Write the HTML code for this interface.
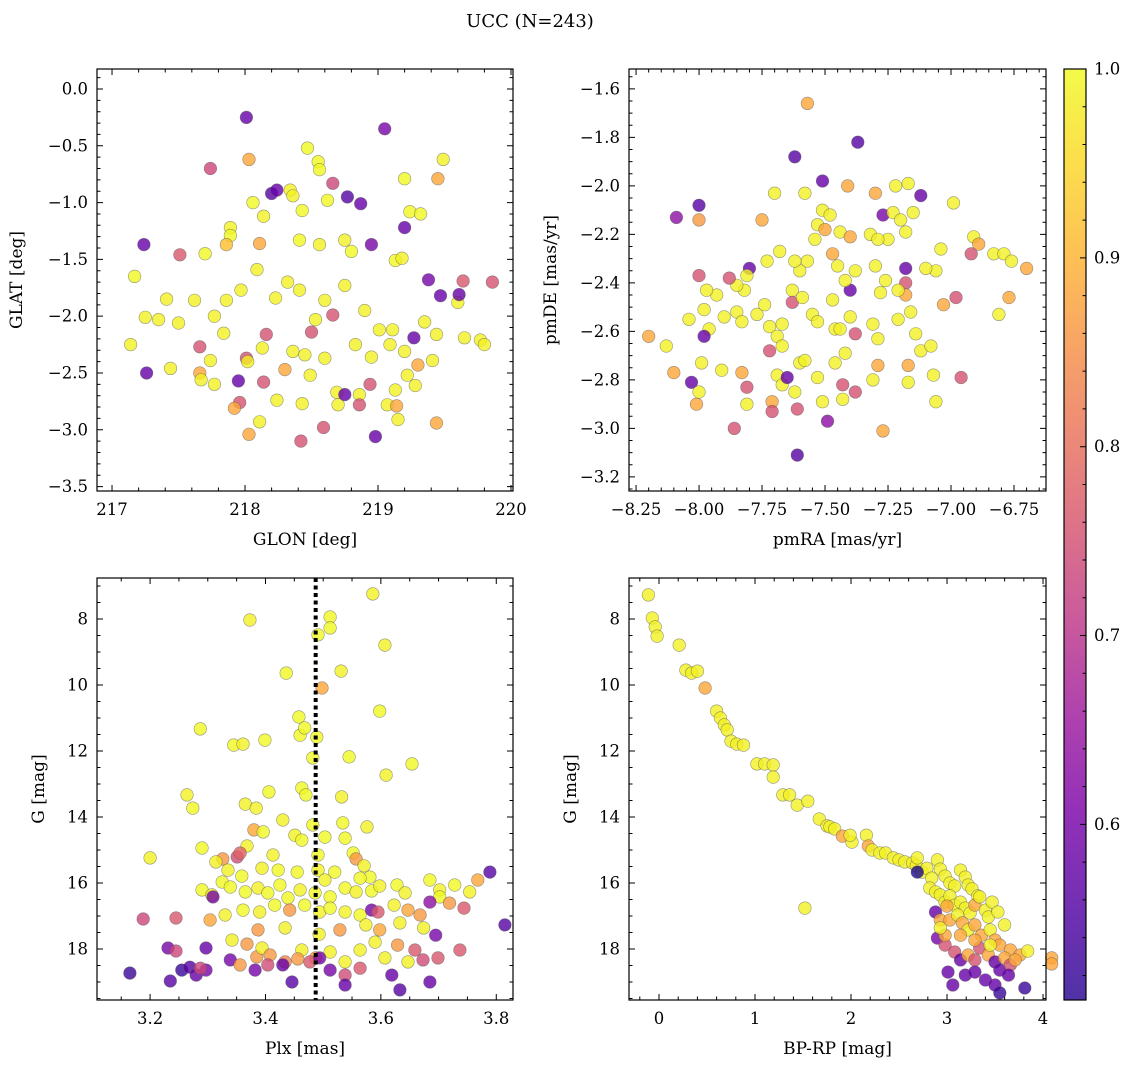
<!DOCTYPE html>
<html><head><meta charset="utf-8"><style>
body{margin:0;background:#fff}
svg{display:block;font-family:"DejaVu Serif","Liberation Serif",serif}
</style></head><body>
<svg id="fig" width="1136" height="1068" viewBox="0 0 1136 1068" xmlns="http://www.w3.org/2000/svg">
<defs>
<linearGradient id="cbgrad" x1="0" y1="1" x2="0" y2="0">
<stop offset="0" stop-color="#2a0593"/><stop offset="0.1" stop-color="#5302a3"/><stop offset="0.2" stop-color="#7a02a8"/><stop offset="0.3" stop-color="#9c179e"/><stop offset="0.4" stop-color="#bb3488"/><stop offset="0.5" stop-color="#d35171"/><stop offset="0.6" stop-color="#e76f5a"/><stop offset="0.7" stop-color="#f68f44"/><stop offset="0.8" stop-color="#fdb32f"/><stop offset="0.9" stop-color="#fbd724"/><stop offset="1" stop-color="#f0f921"/>
</linearGradient>
</defs>
<text x="530" y="27" font-size="18" text-anchor="middle">UCC (N=243)</text>
</svg>
<script>
// Panel 1: GLON vs GLAT
const glon=[218.01,219.05,217.74,218.03,218.47,218.55,218.56,218.66,219.49,219.20,219.45,218.20,218.24,218.34,218.36,218.62,218.77,218.87,219.24,219.32,218.06,218.14,218.43,217.89,217.89,217.24,217.51,217.70,217.86,218.11,218.41,218.56,218.75,218.80,218.95,219.20,219.13,219.18,219.38,219.64,217.17,217.41,217.50,217.25,217.35,217.62,217.77,217.84,217.97,218.09,218.23,218.41,218.53,218.60,218.75,218.90,219.01,219.11,219.27,219.35,219.44,219.60,219.77,219.80,219.47,219.61,217.66,217.74,218.01,218.13,218.16,218.36,218.45,218.50,218.66,218.83,218.95,219.09,219.20,219.30,219.41,217.26,217.44,217.66,217.67,217.95,217.77,218.02,218.14,218.30,218.49,218.60,218.69,218.86,218.94,219.13,219.28,219.22,217.96,217.92,218.24,218.43,218.59,218.70,218.75,218.86,219.07,219.15,219.44,218.42,218.03,218.11,218.98,219.14,219.65,219.86,217.14,217.86,218.32];
const glat=[-0.25,-0.35,-0.70,-0.62,-0.52,-0.64,-0.71,-0.83,-0.62,-0.79,-0.79,-0.92,-0.89,-0.89,-0.94,-0.98,-0.95,-1.01,-1.08,-1.10,-1.00,-1.12,-1.07,-1.22,-1.29,-1.37,-1.46,-1.45,-1.37,-1.36,-1.33,-1.37,-1.33,-1.43,-1.37,-1.22,-1.51,-1.49,-1.68,-1.69,-1.65,-1.85,-2.06,-2.01,-2.03,-1.86,-2.00,-2.15,-1.77,-1.59,-1.84,-1.77,-2.03,-1.86,-1.73,-1.95,-2.12,-2.12,-2.19,-2.05,-2.16,-1.88,-2.21,-2.25,-1.82,-1.81,-2.27,-2.39,-2.37,-2.28,-2.16,-2.31,-2.34,-2.14,-1.99,-2.25,-2.36,-2.25,-2.31,-2.43,-2.39,-2.50,-2.46,-2.50,-2.56,-2.57,-2.60,-2.40,-2.58,-2.47,-2.52,-2.37,-2.67,-2.69,-2.60,-2.65,-2.61,-2.52,-2.76,-2.81,-2.74,-2.77,-2.98,-2.78,-2.69,-2.78,-2.78,-2.91,-2.94,-3.10,-3.04,-2.93,-3.06,-2.79,-2.19,-1.70,-2.25,-1.86,-1.70];
const prob1=[0.60,0.62,0.75,0.90,1.0,1.0,1.0,0.75,0.99,1.0,0.90,0.58,0.60,0.99,0.99,1.0,0.58,0.60,1.0,1.0,1.0,0.99,1.0,0.99,1.0,0.60,0.78,1.0,0.93,0.90,1.0,0.99,0.99,1.0,0.62,0.60,1.0,0.99,0.62,0.78,1.0,0.99,0.99,0.99,0.99,0.99,0.99,0.99,0.99,0.99,0.99,0.99,0.99,0.99,0.99,0.99,0.99,0.99,0.60,0.99,0.99,0.99,0.99,0.99,0.60,0.60,0.77,0.99,0.77,0.99,0.77,0.99,0.99,0.77,0.77,0.99,0.99,0.99,0.99,0.90,0.99,0.60,0.99,0.90,0.99,0.60,0.99,0.99,0.77,0.90,0.99,0.99,0.99,0.99,0.77,0.99,0.99,0.99,0.77,0.90,0.99,0.99,0.77,0.99,0.60,0.77,0.99,0.99,0.90,0.77,0.90,0.99,0.60,0.90,0.99,0.77,0.99,0.99,0.99];

// Panel 2: pmRA vs pmDE
const pmra=[-7.57,-7.37,-7.62,-7.51,-7.70,-7.58,-7.12,-7.30,-7.41,-7.17,-7.22,-8.09,-8.00,-8.00,-6.99,-7.75,-7.51,-7.48,-7.44,-7.40,-7.53,-7.54,-7.50,-7.32,-7.27,-7.23,-7.20,-7.18,-7.15,-7.25,-7.29,-6.91,-6.89,-6.70,-6.83,-6.79,-6.76,-6.92,-7.04,-7.06,-7.10,-7.18,-7.18,-7.18,-7.21,-7.28,-7.26,-7.30,-7.38,-7.40,-7.42,-7.47,-7.45,-7.57,-7.60,-7.62,-7.63,-7.68,-7.73,-7.80,-7.81,-7.82,-7.85,-7.88,-7.93,-7.97,-8.00,-8.04,-7.98,-7.96,-7.90,-7.98,-7.85,-7.83,-7.77,-7.74,-7.72,-7.69,-7.67,-7.67,-7.63,-7.59,-7.55,-7.53,-7.47,-7.46,-7.44,-7.40,-7.38,-7.31,-7.29,-7.21,-7.16,-7.14,-7.12,-7.08,-7.03,-6.98,-6.77,-6.81,-8.20,-8.13,-8.10,-8.03,-7.99,-7.91,-7.83,-7.81,-7.72,-7.69,-7.67,-7.60,-7.65,-7.58,-7.53,-7.46,-7.42,-7.43,-7.31,-7.29,-7.17,-7.07,-6.96,-8.01,-8.00,-7.86,-7.71,-7.62,-7.49,-7.51,-7.43,-7.38,-7.61,-7.81,-7.71,-7.61,-7.27,-7.06,-7.17];
const pmde=[-1.66,-1.82,-1.88,-1.98,-2.03,-2.03,-2.04,-2.03,-2.00,-1.99,-2.00,-2.13,-2.08,-2.14,-2.07,-2.14,-2.10,-2.12,-2.19,-2.21,-2.16,-2.22,-2.18,-2.20,-2.12,-2.11,-2.14,-2.19,-2.11,-2.22,-2.22,-2.21,-2.24,-2.34,-2.28,-2.28,-2.31,-2.28,-2.26,-2.35,-2.34,-2.34,-2.40,-2.45,-2.43,-2.44,-2.39,-2.33,-2.35,-2.43,-2.39,-2.28,-2.33,-2.31,-2.35,-2.31,-2.43,-2.27,-2.31,-2.34,-2.37,-2.43,-2.41,-2.38,-2.45,-2.43,-2.37,-2.55,-2.51,-2.59,-2.54,-2.62,-2.52,-2.56,-2.53,-2.49,-2.58,-2.62,-2.57,-2.66,-2.48,-2.46,-2.53,-2.56,-2.47,-2.59,-2.59,-2.54,-2.61,-2.57,-2.63,-2.55,-2.52,-2.61,-2.68,-2.66,-2.49,-2.46,-2.46,-2.53,-2.62,-2.66,-2.77,-2.81,-2.73,-2.76,-2.77,-2.83,-2.68,-2.78,-2.82,-2.73,-2.79,-2.72,-2.79,-2.73,-2.69,-2.82,-2.80,-2.74,-2.74,-2.78,-2.79,-2.90,-2.85,-3.00,-2.89,-2.85,-2.97,-2.89,-2.88,-2.85,-2.92,-2.90,-2.93,-3.11,-3.01,-2.89,-2.81];
const prob2=[0.9,0.58,0.58,0.6,0.99,0.99,0.6,0.9,0.9,0.99,0.99,0.65,0.58,0.88,0.99,0.9,0.99,0.99,0.99,0.9,0.99,0.99,0.9,0.99,0.62,0.99,0.99,0.99,0.99,0.99,0.99,0.99,0.9,0.9,0.99,0.99,0.99,0.77,0.99,0.99,0.99,0.6,0.77,0.9,0.99,0.99,0.99,0.99,0.99,0.6,0.99,0.9,0.99,0.99,0.99,0.99,0.99,0.99,0.99,0.6,0.99,0.99,0.99,0.77,0.99,0.99,0.77,0.99,0.99,0.99,0.99,0.6,0.99,0.99,0.99,0.99,0.99,0.99,0.99,0.99,0.77,0.99,0.99,0.99,0.99,0.99,0.99,0.99,0.77,0.99,0.99,0.99,0.99,0.99,0.99,0.99,0.9,0.77,0.9,0.99,0.9,0.99,0.9,0.6,0.99,0.99,0.9,0.77,0.77,0.99,0.99,0.99,0.6,0.99,0.99,0.99,0.99,0.77,0.99,0.9,0.9,0.99,0.77,0.9,0.99,0.77,0.9,0.99,0.65,0.99,0.99,0.77,0.77,0.99,0.77,0.58,0.9,0.99,0.99];

// Panel 3: Plx vs G
const plx=[3.586,3.373,3.512,3.512,3.491,3.607,3.498,3.436,3.531,3.598,3.458,3.460,3.468,3.287,3.345,3.361,3.399,3.489,3.482,3.545,3.609,3.654,3.463,3.406,3.264,3.274,3.532,3.470,3.365,3.534,3.576,3.384,3.380,3.430,3.396,3.451,3.482,3.503,3.538,3.552,3.368,3.463,3.491,3.290,3.413,3.351,3.356,3.326,3.314,3.335,3.359,3.394,3.422,3.455,3.491,3.520,3.557,3.571,3.581,3.200,3.290,3.307,3.325,3.339,3.365,3.387,3.404,3.425,3.439,3.460,3.486,3.503,3.512,3.538,3.557,3.564,3.584,3.598,3.628,3.642,3.685,3.702,3.702,3.728,3.754,3.768,3.309,3.188,3.245,3.304,3.330,3.361,3.390,3.416,3.442,3.468,3.494,3.512,3.538,3.564,3.584,3.595,3.623,3.647,3.668,3.685,3.719,3.744,3.789,3.815,3.695,3.342,3.368,3.385,3.394,3.408,3.434,3.463,3.487,3.512,3.538,3.564,3.590,3.607,3.629,3.647,3.659,3.673,3.231,3.245,3.297,3.297,3.255,3.269,3.280,3.165,3.235,3.287,3.339,3.356,3.382,3.404,3.430,3.446,3.456,3.477,3.494,3.512,3.538,3.538,3.564,3.619,3.633,3.685,3.699,3.737,3.434,3.387,3.493,3.529,3.574,3.598,3.633,3.674];
const gmag3=[7.24,8.03,7.94,8.27,8.48,8.79,10.09,9.64,9.58,10.79,10.97,11.52,11.30,11.33,11.82,11.79,11.67,11.58,12.21,12.18,12.73,12.39,13.12,13.24,13.33,13.73,13.39,13.33,13.61,14.18,14.30,13.73,14.39,14.09,14.45,14.55,14.24,14.61,14.64,15.09,14.88,14.70,15.15,14.94,15.15,15.21,15.09,15.27,15.36,15.61,15.79,15.55,15.61,15.67,15.61,15.67,15.27,15.48,15.82,15.24,16.21,16.36,15.97,16.12,16.27,16.15,16.30,16.06,16.45,16.21,16.30,15.91,16.42,16.15,16.27,15.85,16.24,16.09,16.06,16.30,15.91,16.21,16.42,16.06,16.27,15.91,16.42,17.09,17.06,17.12,16.97,16.82,16.88,16.67,16.82,16.67,16.88,16.76,16.88,16.97,16.82,16.88,16.67,16.82,16.97,16.58,16.61,16.76,15.67,17.27,17.58,17.73,17.85,18.24,17.97,18.18,18.39,18.03,18.27,18.09,18.39,18.03,17.79,18.27,17.88,18.39,18.03,18.33,17.97,18.06,17.97,18.64,18.64,18.55,18.79,18.73,18.97,18.58,18.33,18.48,18.64,18.48,18.48,19.00,18.30,18.39,18.27,18.64,18.79,19.09,18.58,18.79,19.24,19.00,18.27,18.03,17.36,17.42,17.55,17.42,17.27,17.42,17.21,17.36];
const prob3=[0.99,0.99,1.0,1.0,1.0,0.99,0.9,1.0,0.99,1.0,1.0,1.0,1.0,1.0,1.0,0.99,1.0,1.0,1.0,1.0,0.99,1.0,1.0,1.0,0.99,1.0,0.99,1.0,0.99,1.0,0.99,0.99,0.9,0.99,1.0,0.99,1.0,1.0,1.0,1.0,0.99,1.0,1.0,1.0,0.99,0.76,0.8,0.88,0.99,0.99,1.0,0.99,1.0,1.0,0.99,1.0,0.88,0.99,1.0,0.99,1.0,0.99,1.0,1.0,1.0,0.99,1.0,1.0,1.0,0.99,1.0,0.99,1.0,1.0,0.99,1.0,1.0,0.99,1.0,0.99,1.0,0.99,1.0,1.0,0.99,0.9,0.62,0.75,0.78,0.9,0.99,1.0,0.99,1.0,0.88,1.0,0.99,1.0,0.99,1.0,0.62,0.78,0.99,0.9,0.88,0.65,0.88,0.78,0.58,0.58,0.62,0.99,0.88,0.88,0.99,0.88,0.85,0.99,0.88,0.99,0.99,0.99,0.99,0.99,0.88,0.99,0.78,0.76,0.62,0.75,0.6,0.62,0.55,0.58,0.6,0.55,0.58,0.75,0.62,0.88,0.62,0.76,0.6,0.58,0.88,0.78,0.62,0.62,0.76,0.6,0.78,0.6,0.58,0.6,0.78,0.78,0.99,0.88,0.99,0.88,0.99,0.9,0.99,0.99];

// Panel 4: BP-RP vs G
const bprp=[-0.11,-0.07,-0.04,-0.02,0.21,0.28,0.34,0.40,0.48,0.60,0.64,0.68,0.71,0.75,0.81,0.88,1.02,1.10,1.19,1.19,1.29,1.36,1.44,1.55,1.67,1.75,1.78,1.83,1.91,2.01,1.99,2.16,2.18,2.22,2.30,2.36,2.44,2.50,2.56,2.64,2.68,2.74,2.79,2.69,2.84,2.90,2.93,2.98,3.03,3.08,3.14,3.19,3.22,3.26,3.32,2.69,2.82,2.88,2.93,2.98,3.03,3.08,3.14,3.19,3.24,3.29,3.34,3.40,3.43,3.47,3.53,3.60,3.00,2.88,2.93,3.03,3.11,3.16,3.22,3.29,3.36,3.45,3.50,3.55,3.66,3.76,3.84,1.52,2.90,2.98,3.08,3.14,3.22,3.29,3.34,3.43,3.50,3.55,3.60,3.66,3.71,3.01,3.06,3.19,3.29,3.40,3.50,3.64,3.55,3.81,4.09,4.09,2.98,2.93,3.29,3.45,3.14];
const gmag4=[7.27,7.97,8.24,8.52,8.79,9.55,9.64,9.58,10.09,10.79,11.00,11.21,11.36,11.70,11.79,11.82,12.39,12.39,12.42,12.79,13.33,13.33,13.64,13.52,14.06,14.27,14.30,14.36,14.58,14.76,14.55,14.55,14.88,15.00,15.09,15.09,15.24,15.30,15.36,15.39,15.48,15.67,15.55,15.24,15.85,15.30,15.58,15.79,16.00,16.09,15.61,15.82,16.06,16.18,16.39,15.67,16.15,16.27,16.36,16.58,16.39,16.67,16.58,16.76,16.91,16.67,16.42,16.82,17.03,16.58,16.88,17.27,16.70,16.88,17.12,17.12,16.97,17.21,17.42,17.27,17.58,17.42,17.73,17.88,18.03,18.18,18.06,16.76,17.67,17.88,18.09,18.33,18.18,18.33,17.97,18.18,18.39,18.64,18.27,18.48,18.33,18.70,19.09,18.79,18.70,18.94,19.09,18.79,19.33,19.18,18.27,18.45,17.58,17.36,17.73,17.88,17.58];
const prob4=[0.99,0.99,0.99,0.99,0.99,0.99,0.99,0.99,0.9,0.99,0.99,0.99,0.99,0.99,0.99,0.99,0.99,0.99,0.99,0.99,0.99,0.99,0.99,0.99,0.99,0.99,0.99,0.99,0.9,0.99,0.99,0.99,0.9,0.99,0.99,0.99,0.99,0.99,0.99,0.99,0.99,0.99,0.99,0.99,0.99,0.99,0.99,0.99,0.99,0.99,0.99,0.99,0.99,0.99,0.99,0.52,0.99,0.99,0.99,0.99,0.99,0.99,0.99,0.99,0.99,0.9,0.99,0.99,0.99,0.99,0.99,0.99,0.9,0.6,0.9,0.9,0.99,0.9,0.99,0.9,0.9,0.99,0.9,0.9,0.9,0.9,0.99,0.99,0.62,0.77,0.77,0.6,0.9,0.77,0.77,0.9,0.6,0.6,0.9,0.77,0.9,0.6,0.6,0.6,0.6,0.6,0.6,0.6,0.55,0.55,0.9,0.9,0.9,0.99,0.9,0.99,0.9];

const plxLine=3.487;
const cbTicks=[0.6,0.7,0.8,0.9,1.0];
const cbRange=[0.507,1.0];

const NS='http://www.w3.org/2000/svg';
const svg=document.getElementById('fig');
function mk(tag,attrs,parent){const e=document.createElementNS(NS,tag);for(const k in attrs)e.setAttribute(k,attrs[k]);(parent||svg).appendChild(e);return e;}
const stops=[[0,[13,8,135]],[0.1,[65,4,157]],[0.2,[106,0,168]],[0.3,[143,13,164]],[0.4,[177,42,144]],[0.5,[204,71,120]],[0.6,[225,100,98]],[0.7,[242,132,75]],[0.8,[252,166,54]],[0.9,[252,206,37]],[0.96,[245,232,35]],[1.0,[240,249,33]]];
function plasma(t){t=Math.max(0,Math.min(1,t));for(let i=1;i<stops.length;i++){if(t<=stops[i][0]){const a=stops[i-1],b=stops[i];const f=(t-a[0])/(b[0]-a[0]);const c=a[1].map((v,j)=>Math.round(v+(b[1][j]-v)*f));return 'rgb('+c.join(',')+')';}}return 'rgb(240,249,33)';}
function fmtNum(v,d){const s=Math.abs(v).toFixed(d);return (v<-1e-9?'\u2212':'')+s;}

function panel(c){
  const g=mk('g',{});
  
  
  const sx=v=>c.x0+(v-c.xd[0])/(c.xd[1]-c.xd[0])*(c.x1-c.x0);
  const sy=v=>c.y0+(v-c.yd[0])/(c.yd[1]-c.yd[0])*(c.y1-c.y0);
  const pts=mk('g',{},g);
  
  
  const n=Math.min(c.xs.length,c.ys.length,c.ps.length);
  for(let i=0;i<n;i++){
    const t=(c.ps[i]-cbRange[0])/(cbRange[1]-cbRange[0]);
    const ci=mk('circle',{cx:sx(c.xs[i]).toFixed(1),cy:sy(c.ys[i]).toFixed(1),r:6.3,fill:plasma(t),'fill-opacity':0.8,stroke:'#555','stroke-opacity':0.6,'stroke-width':0.6},pts);
    
    
  }
  if(c.vline!==undefined){
    const l=mk('line',{x1:sx(c.vline),x2:sx(c.vline),y1:c.y0,y2:c.y1,stroke:'#000','stroke-width':4,'stroke-dasharray':'4 3.5'},g);
    
    
  }
  const ax=mk('rect',{x:c.x0,y:c.y0,width:c.x1-c.x0,height:c.y1-c.y0,fill:'none',stroke:'#000','stroke-width':1.2},g);
  
  
  let d='';
  const lo=Math.min(c.xd[0],c.xd[1]),hi=Math.max(c.xd[0],c.xd[1]);
  for(let k=Math.ceil(lo/c.xminor-1e-6);k*c.xminor<=hi+1e-9;k++){const v=k*c.xminor;const x=sx(v);const maj=c.xmaj.some(m=>Math.abs(m-v)<1e-6);const L=maj?6:3.5;d+=`M${x},${c.y1}v${-L}M${x},${c.y0}v${L}`;}
  const ylo=Math.min(c.yd[0],c.yd[1]),yhi=Math.max(c.yd[0],c.yd[1]);
  for(let k=Math.ceil(ylo/c.yminor-1e-6);k*c.yminor<=yhi+1e-9;k++){const v=k*c.yminor;const y=sy(v);const maj=c.ymaj.some(m=>Math.abs(m-v)<1e-6);const L=maj?6:3.5;d+=`M${c.x0},${y}h${L}M${c.x1},${y}h${-L}`;}
  mk('path',{d:d,stroke:'#000','stroke-width':1,fill:'none'},g);
  c.xmaj.forEach(v=>{const t=mk('text',{x:sx(v),y:c.y1+24,'font-size':16.5,'text-anchor':'middle'},g);t.textContent=fmtNum(v,c.xdec);
    
    });
  c.ymaj.forEach(v=>{const t=mk('text',{x:c.x0-9,y:sy(v)+5.5,'font-size':16.5,'text-anchor':'end'},g);t.textContent=fmtNum(v,c.ydec);
    
    });
  const xl=mk('text',{x:(c.x0+c.x1)/2,y:c.y1+54,'font-size':17,'text-anchor':'middle'},g);xl.textContent=c.xlabel;
  
  
  const yl=mk('text',{x:0,y:0,'font-size':17,'text-anchor':'middle',transform:`translate(${c.ylx},${(c.y0+c.y1)/2}) rotate(-90)`},g);yl.textContent=c.ylabel;
  
  
}

panel({name:'glon-glat-panel',x0:97,x1:513,y0:69,y1:491,xd:[216.887,220.015],yd:[0.176,-3.539],xs:glon,ys:glat,ps:prob1,xmaj:[217,218,219,220],xminor:0.2,xdec:0,ymaj:[0,-0.5,-1,-1.5,-2,-2.5,-3,-3.5],yminor:0.1,ydec:1,xlabel:'GLON [deg]',ylabel:'GLAT [deg]',ylx:22});
panel({name:'pm-panel',x0:629,x1:1046,y0:69,y1:491,xd:[-8.278,-6.623],yd:[-1.518,-3.258],xs:pmra,ys:pmde,ps:prob2,xmaj:[-8.25,-8,-7.75,-7.5,-7.25,-7,-6.75],xminor:0.05,xdec:2,ymaj:[-1.6,-1.8,-2,-2.2,-2.4,-2.6,-2.8,-3,-3.2],yminor:0.05,ydec:1,xlabel:'pmRA [mas/yr]',ylabel:'pmDE [mas/yr]',ylx:556});
panel({name:'plx-g-panel',x0:97,x1:513,y0:578,y1:1000,xd:[3.108,3.829],yd:[6.758,19.545],xs:plx,ys:gmag3,ps:prob3,vline:plxLine,xmaj:[3.2,3.4,3.6,3.8],xminor:0.05,xdec:1,ymaj:[8,10,12,14,16,18],yminor:0.5,ydec:0,xlabel:'Plx [mas]',ylabel:'G [mag]',ylx:44});
panel({name:'cmd-panel',x0:629,x1:1046,y0:578,y1:1000,xd:[-0.3125,4.031],yd:[6.758,19.545],xs:bprp,ys:gmag4,ps:prob4,xmaj:[0,1,2,3,4],xminor:0.2,xdec:0,ymaj:[8,10,12,14,16,18],yminor:0.5,ydec:0,xlabel:'BP-RP [mag]',ylabel:'G [mag]',ylx:576});

// Colorbar
const cb=mk('g',{});


const cbx0=1064,cbx1=1086,cby0=69,cby1=1000;
const cbs=v=>cby1-(v-cbRange[0])/(cbRange[1]-cbRange[0])*(cby1-cby0);
mk('rect',{x:cbx0,y:cby0,width:cbx1-cbx0,height:cby1-cby0,fill:'url(#cbgrad)','fill-opacity':0.82},cb);
mk('rect',{x:cbx0,y:cby0,width:cbx1-cbx0,height:cby1-cby0,fill:'none',stroke:'#000','stroke-width':1.2},cb);
let cd='';
for(let k=26;k<=50;k++){const v=k*0.02;if(v<cbRange[0]||v>cbRange[1]+1e-9)continue;const y=cbs(v);const maj=cbTicks.some(m=>Math.abs(m-v)<1e-6);cd+=`M${cbx1},${y}h${maj?-6:-3.5}`;}
mk('path',{d:cd,stroke:'#000','stroke-width':1},cb);
cbTicks.forEach(v=>{const t=mk('text',{x:cbx1+8,y:cbs(v)+5.5,'font-size':16.5},cb);t.textContent=v.toFixed(1);
  
  });
</script>
</body></html>
